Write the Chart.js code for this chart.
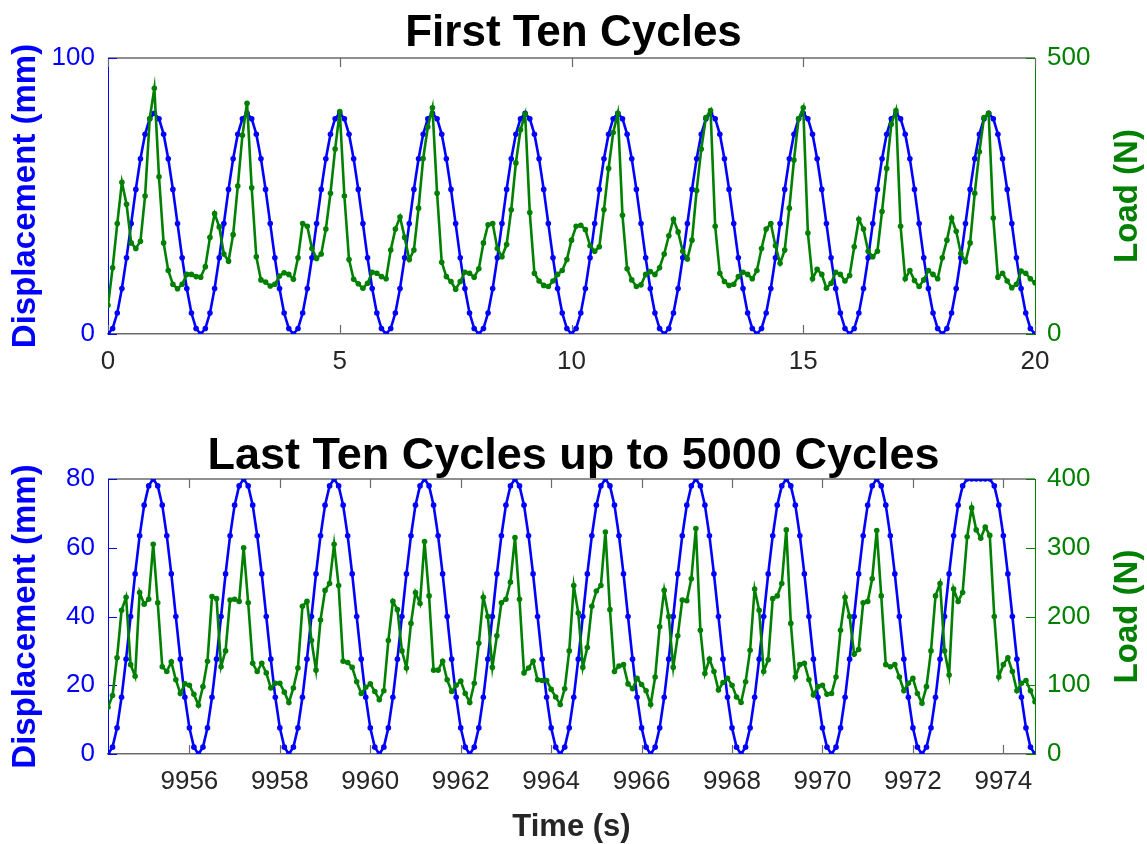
<!DOCTYPE html>
<html><head><meta charset="utf-8">
<script src="https://cdn.jsdelivr.net/npm/chart.js@4.4.1/dist/chart.umd.min.js"></script>
<style>
html,body{margin:0;padding:0;background:#fff;}
#wrap{position:relative;width:1147px;height:844px;overflow:hidden;background:#fff;}
canvas{position:absolute;left:0;}
#c1{top:0;}
#c2{top:400px;}
</style></head>
<body><div id="wrap"><canvas id="c1" width="1147" height="400"></canvas><canvas id="c2" width="1147" height="444"></canvas></div>
<script>
// ---------- DATA ----------
const topTitle = 'First Ten Cycles';
const bottomTitle = 'Last Ten Cycles up to 5000 Cycles';
const dispLabel = 'Displacement (mm)';
const loadLabel = 'Load (N)';
const timeLabel = 'Time (s)';

// sampling grid (s)
const topStart = 0;
const bottomStart = 9954.2;
const sampleStep = 0.1;

// axis tick settings
const topTimeTicks = [0, 5, 10, 15, 20];
const bottomTimeTicks = [9956, 9958, 9960, 9962, 9964, 9966, 9968, 9970, 9972, 9974];
const topDispTicks = [0, 100];
const topLoadTicks = [0, 500];
const bottomDispTicks = [0, 20, 40, 60, 80];
const bottomLoadTicks = [0, 100, 200, 300, 400];

// First ten cycles: displacement (mm), t = 0 .. 20 s
const topDisp = [
  0, 2, 7.6, 16.5, 27.6, 40, 52.4, 63.5, 72.4, 78,
  80, 78, 72.4, 63.5, 52.4, 40, 27.6, 16.5, 7.6, 2, 0, 2, 7.6, 16.5, 27.6, 40, 52.4, 63.5, 72.4, 78,
  80, 78, 72.4, 63.5, 52.4, 40, 27.6, 16.5, 7.6, 2, 0, 2, 7.6, 16.5, 27.6, 40, 52.4, 63.5, 72.4, 78,
  80, 78, 72.4, 63.5, 52.4, 40, 27.6, 16.5, 7.6, 2, 0, 2, 7.6, 16.5, 27.6, 40, 52.4, 63.5, 72.4, 78,
  80, 78, 72.4, 63.5, 52.4, 40, 27.6, 16.5, 7.6, 2, 0, 2, 7.6, 16.5, 27.6, 40, 52.4, 63.5, 72.4, 78,
  80, 78, 72.4, 63.5, 52.4, 40, 27.6, 16.5, 7.6, 2, 0, 2, 7.6, 16.5, 27.6, 40, 52.4, 63.5, 72.4, 78,
  80, 78, 72.4, 63.5, 52.4, 40, 27.6, 16.5, 7.6, 2, 0, 2, 7.6, 16.5, 27.6, 40, 52.4, 63.5, 72.4, 78,
  80, 78, 72.4, 63.5, 52.4, 40, 27.6, 16.5, 7.6, 2, 0, 2, 7.6, 16.5, 27.6, 40, 52.4, 63.5, 72.4, 78,
  80, 78, 72.4, 63.5, 52.4, 40, 27.6, 16.5, 7.6, 2, 0, 2, 7.6, 16.5, 27.6, 40, 52.4, 63.5, 72.4, 78,
  80, 78, 72.4, 63.5, 52.4, 40, 27.6, 16.5, 7.6, 2, 0, 2, 7.6, 16.5, 27.6, 40, 52.4, 63.5, 72.4, 78,
  80, 78, 72.4, 63.5, 52.4, 40, 27.6, 16.5, 7.6, 2, 0
];

// First ten cycles: load (N)
const topLoad = [
  52, 120, 200, 275, 235, 165, 155, 168, 250, 390,
  445, 285, 165, 115, 90, 82, 90, 108, 108, 104, 103, 122, 175, 218, 194, 145, 132, 180, 268, 360,
  418, 265, 140, 98, 94, 87, 90, 105, 111, 108, 99, 138, 200, 195, 155, 137, 145, 190, 255, 335,
  403, 250, 135, 99, 91, 83, 92, 112, 110, 104, 100, 152, 190, 212, 175, 135, 152, 228, 318, 375,
  410, 255, 130, 104, 95, 81, 95, 112, 110, 103, 118, 165, 198, 200, 155, 140, 162, 225, 310, 370,
  398, 220, 110, 96, 88, 86, 96, 108, 115, 135, 170, 195, 197, 189, 160, 150, 158, 225, 300, 365,
  400, 215, 118, 98, 86, 89, 108, 113, 108, 120, 145, 178, 208, 185, 150, 136, 170, 260, 335, 392,
  405, 195, 110, 95, 88, 90, 104, 112, 108, 100, 115, 155, 190, 200, 160, 128, 152, 228, 315, 390,
  410, 183, 100, 117, 108, 83, 92, 112, 108, 96, 106, 158, 208, 190, 150, 140, 150, 222, 300, 380,
  405, 195, 100, 115, 97, 86, 98, 115, 108, 100, 138, 170, 210, 186, 146, 131, 165, 255, 330, 392,
  400, 210, 103, 110, 96, 84, 90, 114, 110, 100, 93
];

// Last ten cycles: displacement (mm), t = 9954.2 .. 9974.7 s
const bottomDisp = [
  0, 2, 7.6, 16.5, 27.6, 40, 52.4, 63.5, 72.4, 78, 80, 78, 72.4, 63.5, 52.4, 40, 27.6, 16.5, 7.6, 2,
  0, 2, 7.6, 16.5, 27.6, 40, 52.4, 63.5, 72.4, 78, 80, 78, 72.4, 63.5, 52.4, 40, 27.6, 16.5, 7.6, 2,
  0, 2, 7.6, 16.5, 27.6, 40, 52.4, 63.5, 72.4, 78, 80, 78, 72.4, 63.5, 52.4, 40, 27.6, 16.5, 7.6, 2,
  0, 2, 7.6, 16.5, 27.6, 40, 52.4, 63.5, 72.4, 78, 80, 78, 72.4, 63.5, 52.4, 40, 27.6, 16.5, 7.6, 2,
  0, 2, 7.6, 16.5, 27.6, 40, 52.4, 63.5, 72.4, 78, 80, 78, 72.4, 63.5, 52.4, 40, 27.6, 16.5, 7.6, 2,
  0, 2, 7.6, 16.5, 27.6, 40, 52.4, 63.5, 72.4, 78, 80, 78, 72.4, 63.5, 52.4, 40, 27.6, 16.5, 7.6, 2,
  0, 2, 7.6, 16.5, 27.6, 40, 52.4, 63.5, 72.4, 78, 80, 78, 72.4, 63.5, 52.4, 40, 27.6, 16.5, 7.6, 2,
  0, 2, 7.6, 16.5, 27.6, 40, 52.4, 63.5, 72.4, 78, 80, 78, 72.4, 63.5, 52.4, 40, 27.6, 16.5, 7.6, 2,
  0, 2, 7.6, 16.5, 27.6, 40, 52.4, 63.5, 72.4, 78, 80, 78, 72.4, 63.5, 52.4, 40, 27.6, 16.5, 7.6, 2,
  0, 2, 7.6, 16.5, 27.6, 40, 52.4, 63.5, 72.4, 78, 80, 80, 80, 80, 80, 80, 78, 72.4, 63.5, 52.4, 40, 27.6, 16.5, 7.6, 2, 0
];

// Last ten cycles: load (N)
const bottomLoad = [
  68, 85, 140, 209, 228, 130, 113, 235, 218, 225, 305, 220, 127, 120, 134, 108, 88, 102, 100, 87,
  71, 98, 135, 229, 226, 127, 150, 224, 225, 222, 300, 220, 132, 120, 132, 118, 96, 103, 103, 90,
  75, 96, 125, 215, 222, 165, 122, 195, 238, 248, 305, 245, 135, 133, 126, 105, 88, 97, 102, 91,
  79, 92, 165, 222, 210, 150, 125, 190, 235, 219, 309, 230, 122, 122, 135, 108, 91, 100, 106, 88,
  75, 103, 161, 228, 200, 126, 172, 220, 225, 250, 315, 225, 118, 125, 135, 108, 107, 107, 94, 83,
  72, 95, 150, 245, 205, 126, 155, 215, 237, 245, 323, 210, 120, 128, 130, 102, 95, 110, 101, 92,
  72, 112, 185, 238, 200, 126, 172, 224, 223, 255, 328, 180, 117, 138, 120, 93, 104, 110, 100, 83,
  75, 105, 151, 240, 209, 120, 137, 226, 230, 248, 326, 190, 112, 130, 132, 108, 86, 98, 100, 87,
  88, 112, 180, 228, 200, 145, 152, 220, 222, 255, 325, 230, 130, 127, 130, 112, 92, 103, 110, 88,
  74, 98, 150, 230, 248, 150, 115, 240, 222, 235, 316, 358, 326, 314, 330, 318, 200, 112, 130, 140, 120, 92, 103, 107, 92, 76
];

// ---------- STYLE ----------
const FONT = "'Liberation Sans', Arial, Helvetica, sans-serif";
const BLUE = '#0000ff';
const GREEN = '#008000';
const TICKTXT = '#262626';
const BOX = '#6a6a6a';

function toPoints(start, values) {
  return values.map((v, i) => ({ x: Math.round((start + i * sampleStep) * 10) / 10, y: v }));
}

const boxPlugin = {
  id: 'matlabBox',
  beforeDatasetsDraw(chart) {
    const { ctx, chartArea: a, scales } = chart;
    const L = 9;
    ctx.save();
    ctx.lineWidth = 1.5;
    ctx.strokeStyle = BOX;
    ctx.beginPath();
    ctx.moveTo(a.left, a.top); ctx.lineTo(a.right, a.top);
    ctx.stroke();
    ctx.lineWidth = 1.2;
    ctx.beginPath();
    scales.x.ticks.forEach(t => {
      const px = Math.round(scales.x.getPixelForValue(t.value)) + 0.5;
      ctx.moveTo(px, a.bottom); ctx.lineTo(px, a.bottom - L);
      ctx.moveTo(px, a.top); ctx.lineTo(px, a.top + L);
    });
    ctx.stroke();
    ctx.strokeStyle = BLUE;
    ctx.beginPath();
    scales.y.ticks.forEach(t => {
      const py = Math.round(scales.y.getPixelForValue(t.value)) + 0.5;
      ctx.moveTo(a.left, py); ctx.lineTo(a.left + L, py);
    });
    ctx.stroke();
    ctx.strokeStyle = GREEN;
    ctx.beginPath();
    scales.y1.ticks.forEach(t => {
      const py = Math.round(scales.y1.getPixelForValue(t.value)) + 0.5;
      ctx.moveTo(a.right, py); ctx.lineTo(a.right - L, py);
    });
    ctx.stroke();
    ctx.restore();
  },
  afterDraw(chart, args, opts) {
    const { ctx, chartArea: a } = chart;
    ctx.save();
    ctx.translate(opts.x, (a.top + a.bottom) / 2);
    ctx.rotate(-Math.PI / 2);
    ctx.fillStyle = GREEN;
    ctx.font = 'bold ' + opts.size + 'px ' + FONT;
    ctx.textAlign = 'center';
    ctx.textBaseline = 'middle';
    ctx.fillText(opts.text, 0, 0);
    ctx.restore();
  }
};

function keepTicks(list) {
  return s => {
    s.ticks = list.filter(v => v >= s.min - 1e-9 && v <= s.max + 1e-9).map(v => ({ value: v }));
  };
}

function buildChart(id, o) {
  const lineDs = (label, data, axis, color, order) => ({
    label, data, yAxisID: axis, order,
    borderColor: color, backgroundColor: color,
    pointBackgroundColor: color, pointBorderColor: color,
    borderWidth: 2.6, pointRadius: 2.8, pointBorderWidth: 0,
    pointHoverRadius: 0, tension: 0, fill: false
  });
  return new Chart(document.getElementById(id), {
    type: 'line',
    data: {
      datasets: [
        lineDs(loadLabel, o.load, 'y1', GREEN, 0),
        lineDs(dispLabel, o.disp, 'y', BLUE, 1)
      ]
    },
    options: {
      responsive: false, animation: false, devicePixelRatio: 1, events: [],
      layout: { padding: 0 },
      plugins: {
        legend: { display: false },
        tooltip: { enabled: false },
        title: {
          display: true, text: o.title, color: '#000',
          font: { family: FONT, size: o.titleSize, weight: 'bold', lineHeight: 1 },
          padding: o.titlePad
        },
        matlabBox: { text: loadLabel, x: 1128, size: 33 }
      },
      scales: {
        x: {
          type: 'linear', min: o.xMin, max: o.xMax,
          grid: { display: false, drawTicks: false },
          border: { display: true, color: BOX, width: 1.5 },
          afterBuildTicks: keepTicks(o.xTicks),
          afterFit: s => { s.height = o.xHeight; },
          ticks: {
            color: TICKTXT, font: { family: FONT, size: 26 }, padding: 12,
            maxRotation: 0, minRotation: 0, autoSkip: false,
            callback: v => String(v)
          },
          title: o.xTitle ? {
            display: true, text: o.xTitle, color: '#262626',
            font: { family: FONT, size: 31, weight: 'bold', lineHeight: 1 },
            padding: { top: 0, bottom: 1.5 }
          } : { display: false }
        },
        y: {
          type: 'linear', position: 'left', min: 0, max: o.dMax,
          grid: { display: false, drawTicks: false },
          border: { display: true, color: BLUE, width: 1 },
          afterBuildTicks: keepTicks(o.dTicks),
          afterFit: s => { s.width = 108; },
          ticks: { color: BLUE, font: { family: FONT, size: 26 }, padding: 13, autoSkip: false, callback: v => String(v) },
          title: {
            display: true, text: dispLabel, color: BLUE,
            font: { family: FONT, size: 33, weight: 'bold', lineHeight: 1 },
            padding: { top: 9.5, bottom: 0 }
          }
        },
        y1: {
          type: 'linear', position: 'right', min: 0, max: o.lMax,
          grid: { display: false, drawTicks: false },
          border: { display: true, color: GREEN, width: 1 },
          afterBuildTicks: keepTicks(o.lTicks),
          afterFit: s => { s.width = 112; },
          ticks: { color: GREEN, font: { family: FONT, size: 26 }, padding: 12, autoSkip: false, callback: v => String(v) }
        }
      }
    },
    plugins: [boxPlugin]
  });
}

buildChart('c1', {
  title: topTitle, titleSize: 44, titlePad: { top: 12, bottom: 2 },
  load: toPoints(topStart, topLoad), disp: toPoints(topStart, topDisp),
  xMin: 0, xMax: 20, xTicks: topTimeTicks, xHeight: 66, xTitle: null,
  dMax: 100, dTicks: topDispTicks, lMax: 500, lTicks: topLoadTicks
});

buildChart('c2', {
  title: bottomTitle, titleSize: 45, titlePad: { top: 34, bottom: 0 },
  load: toPoints(bottomStart, bottomLoad), disp: toPoints(bottomStart, bottomDisp),
  xMin: 9954.2, xMax: 9974.7, xTicks: bottomTimeTicks, xHeight: 90, xTitle: timeLabel,
  dMax: 80, dTicks: bottomDispTicks, lMax: 400, lTicks: bottomLoadTicks
});
</script>
</body></html>
